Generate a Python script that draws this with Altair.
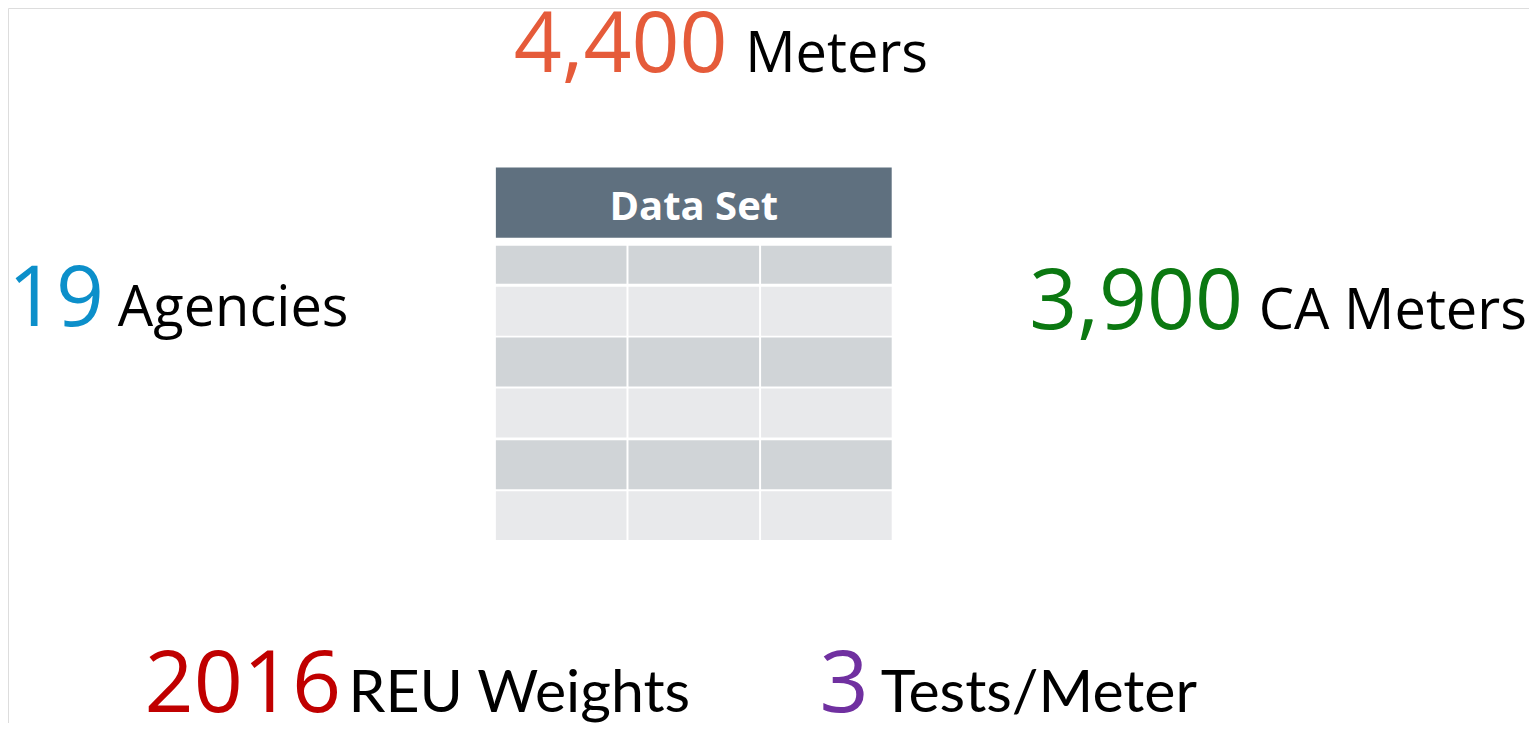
import altair as alt
import pandas as pd

# ---- content -------------------------------------------------------------
numbers = ["4,400", "19", "3,900", "2016", "3"]
labels = ["Meters", "Agencies", "CA Meters", "REU Weights", "Tests/Meter"]
num_colors = ["#E55B3A", "#0C8FCA", "#0B7811", "#C00000", "#7030A0"]
header_text = "Data Set"
n_rows = 6
n_cols = 3

# ---- layout (reference pixel frame 1537 x 731) ---------------------------
W, H = 1521, 715
num_x = [511, 0, 1032, 138, 820]
num_y = [65, 325, 328, 720, 720]
num_size = [84, 84, 84, 86, 86]
lab_x = [745, 111, 1264, 344, 882]
lab_y = [65, 325, 328, 720, 720]
lab_size = [56, 56, 56, 59, 59]
lab_font = ["top", "top", "top", "bottom", "bottom"]

tbl_left, col_w, col_gap = 493, 132, 2
header_top, header_bottom = 163, 235
row_tops = [243, 285, 337, 389, 442, 494]
row_bottoms = [282, 335, 387, 439, 492, 544]

xs = alt.Scale(domain=[0, 1537], range=[0, W])
ys = alt.Scale(domain=[0, 731], range=[0, H])

def X(f):
    return alt.X(f, type="quantitative", scale=xs, axis=None)

def Y(f):
    return alt.Y(f, type="quantitative", scale=ys, axis=None)

# table cells
cells = []
for r in range(n_rows):
    for c in range(n_cols):
        x0 = tbl_left + c * (col_w + col_gap)
        cells.append(dict(x0=x0, x1=x0 + col_w, y0=row_tops[r], y1=row_bottoms[r],
                          fill="#D0D4D7" if r % 2 == 0 else "#E8E9EB"))
cells_df = pd.DataFrame(cells)

header_df = pd.DataFrame([dict(x0=tbl_left, x1=tbl_left + 3 * col_w + 2 * col_gap,
                               y0=header_top, y1=header_bottom, t=header_text,
                               xc=tbl_left + (3 * col_w + 2 * col_gap) / 2, yb=217)])

nums_df = pd.DataFrame(dict(t=numbers, x=num_x, y=num_y, s=num_size, c=num_colors))
labs_df = pd.DataFrame(dict(t=labels, x=lab_x, y=lab_y, s=lab_size, f=lab_font))

cell_layer = alt.Chart(cells_df).mark_rect().encode(
    x=X("x0"), x2="x1", y=Y("y0"), y2="y1",
    fill=alt.Fill("fill:N", scale=None))

header_layer = alt.Chart(header_df).mark_rect(color="#5F707F").encode(
    x=X("x0"), x2="x1", y=Y("y0"), y2="y1")

header_txt = alt.Chart(header_df).mark_text(
    font="Open Sans", fontWeight="bold", fontSize=40, color="white",
    align="center", baseline="alphabetic").encode(
    x=X("xc"), y=Y("yb"), text="t:N")

num_layer = alt.Chart(nums_df).mark_text(
    font="Open Sans", align="left", baseline="alphabetic").encode(
    x=X("x"), y=Y("y"), text="t:N",
    size=alt.Size("s:Q", scale=None, legend=None),
    color=alt.Color("c:N", scale=None))

top_lab = alt.Chart(labs_df).transform_filter(alt.datum.f == "top").mark_text(
    font="Open Sans", align="left", baseline="alphabetic", color="black").encode(
    x=X("x"), y=Y("y"), text="t:N",
    size=alt.Size("s:Q", scale=None, legend=None))

bot_lab = alt.Chart(labs_df).transform_filter(alt.datum.f == "bottom").mark_text(
    font="Lato", align="left", baseline="alphabetic", color="black").encode(
    x=X("x"), y=Y("y"), text="t:N",
    size=alt.Size("s:Q", scale=None, legend=None))

chart = alt.layer(header_layer, cell_layer, header_txt, num_layer, top_lab, bot_lab).properties(
    width=W, height=H, padding=0,
    autosize=alt.AutoSizeParams(type="none"),
).configure_view(stroke=None).configure(background="white")

chart.save("out.html", embed_options={"renderer": "svg", "actions": False})
